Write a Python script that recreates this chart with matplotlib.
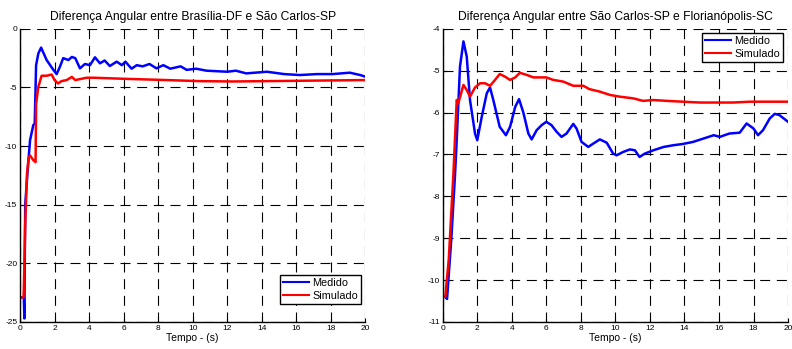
import matplotlib
matplotlib.use('Agg')
import matplotlib.pyplot as plt

plt.rcParams['font.family'] = ['Liberation Sans', 'DejaVu Sans']
plt.rcParams['axes.unicode_minus'] = False

# Brasilia-DF x Sao Carlos-SP
t1_med = [0.0, 0.22, 0.25, 0.3, 0.44, 0.58, 0.77, 0.85, 0.93, 1.06, 1.22, 1.54, 1.93, 2.12, 2.32,
          2.5, 2.8, 3.0, 3.2, 3.47, 3.76, 4.05, 4.34, 4.63, 4.9, 5.2, 5.6, 5.9, 6.1, 6.46, 6.76,
          7.1, 7.5, 7.9, 8.3, 8.7, 9.3, 9.65, 10.2, 10.8, 12.0, 12.5, 13.1, 14.3, 15.3, 16.2,
          17.2, 18.1, 19.1, 19.7, 20.0]
y1_med = [-22.9, -22.9, -24.7, -15.0, -12.1, -9.5, -8.2, -8.1, -3.1, -2.1, -1.6, -2.66, -3.5, -3.86, -3.2,
          -2.5, -2.66, -2.4, -2.5, -3.37, -3.0, -3.1, -2.43, -2.94, -2.7, -3.17, -2.8, -3.1, -2.8, -3.4, -3.1,
          -3.2, -3.0, -3.37, -3.1, -3.4, -3.2, -3.5, -3.4, -3.57, -3.66, -3.57, -3.8, -3.66, -3.86, -3.94,
          -3.86, -3.86, -3.74, -3.94, -4.08]
t1_sim = [0.0, 0.2, 0.22, 0.3, 0.4, 0.5, 0.58, 0.77, 0.9, 0.93, 1.06, 1.25, 1.54, 1.83, 2.0, 2.2,
          2.4, 2.7, 3.0, 3.2, 3.86, 4.25, 6.0, 8.5, 10.4, 12.35, 16.2, 20.0]
y1_sim = [-22.9, -22.9, -22.2, -16.7, -12.4, -11.0, -10.8, -11.2, -11.37, -6.4, -4.94, -4.0, -4.0, -3.9, -4.37, -4.66,
          -4.46, -4.37, -4.1, -4.37, -4.17, -4.17, -4.26, -4.37, -4.46, -4.49, -4.43, -4.37]

# Sao Carlos-SP x Florianopolis-SC
t2_med = [0.0, 0.15, 0.25, 0.5, 0.71, 0.81, 1.0, 1.2, 1.39, 1.58, 1.87, 2.0, 2.26, 2.55, 2.74, 2.93,
          3.3, 3.66, 3.9, 4.2, 4.42, 4.67, 4.96, 5.15, 5.44, 5.73, 6.0, 6.3, 6.6, 6.88, 7.17, 7.56,
          7.75, 8.04, 8.43, 8.72, 9.1, 9.5, 9.87, 10.07, 10.45, 10.84, 11.13, 11.4, 11.7, 12.2, 12.8,
          13.35, 13.9, 14.5, 15.1, 15.7, 16.05, 16.6, 17.2, 17.6, 18.0, 18.26, 18.55, 18.94, 19.23,
          19.5, 20.0]
y2_med = [-10.4, -10.4, -10.45, -9.0, -7.5, -6.66, -4.9, -4.3, -4.66, -5.7, -6.5, -6.66, -6.1, -5.54, -5.4, -5.7,
          -6.34, -6.54, -6.34, -5.86, -5.68, -6.0, -6.5, -6.64, -6.42, -6.3, -6.22, -6.3, -6.46, -6.58, -6.5, -6.27,
          -6.38, -6.7, -6.82, -6.74, -6.64, -6.72, -6.98, -7.02, -6.94, -6.88, -6.9, -7.06, -6.98, -6.9, -6.82,
          -6.78, -6.75, -6.7, -6.62, -6.54, -6.58, -6.5, -6.48, -6.26, -6.38, -6.54, -6.42, -6.14, -6.03,
          -6.06, -6.22]
t2_sim = [0.0, 0.15, 0.35, 0.62, 0.81, 0.9, 1.2, 1.39, 1.58, 1.87, 2.16, 2.45, 2.74, 3.03, 3.3, 3.6,
          3.9, 4.2, 4.47, 4.86, 5.25, 5.63, 6.0, 6.4, 6.98, 7.56, 8.14, 8.5, 9.1, 9.7, 10.26, 11.03,
          11.6, 12.2, 12.96, 13.9, 14.9, 15.85, 16.8, 17.8, 18.75, 20.0]
y2_sim = [-10.4, -10.4, -9.5, -7.45, -5.7, -5.78, -5.34, -5.46, -5.62, -5.4, -5.3, -5.3, -5.36, -5.22, -5.08, -5.14,
          -5.22, -5.16, -5.05, -5.1, -5.16, -5.16, -5.16, -5.22, -5.26, -5.36, -5.36, -5.44, -5.5, -5.58, -5.62, -5.66,
          -5.72, -5.7, -5.72, -5.74, -5.76, -5.76, -5.76, -5.74, -5.74, -5.74]

x_ticks = list(range(0, 21, 2))

fig = plt.figure(figsize=(7.92, 3.49), dpi=100)
ax1 = fig.add_axes([0.0253, 0.0774, 0.436, 0.840])
ax2 = fig.add_axes([0.559, 0.0774, 0.436, 0.840])

panels = [
    (ax1, t1_med, y1_med, t1_sim, y1_sim, (-25, 0), [0, -5, -10, -15, -20, -25],
     'Diferença Angular entre Brasília-DF e São Carlos-SP', 'lower right', (0.988, 0.061)),
    (ax2, t2_med, y2_med, t2_sim, y2_sim, (-11, -4), list(range(-4, -12, -1)),
     'Diferença Angular entre São Carlos-SP e Florianópolis-SC', 'upper right', (0.986, 0.986)),
]

for ax, tm, ym, ts, ys, ylim, yt, title, loc, anchor in panels:
    ax.plot(tm, ym, color='#0000ff', lw=1.8, label='Medido')
    ax.plot(ts, ys, color='#ff0000', lw=1.8, label='Simulado')
    ax.set_xlim(0, 20)
    ax.set_ylim(*ylim)
    ax.set_xticks(x_ticks)
    ax.set_yticks(yt)
    ax.tick_params(direction='in', labelsize=6, length=3, pad=2)
    ax.grid(True, color='black', lw=0.8, linestyle=(0, (9, 6)))
    for s in ['top', 'right']:
        ax.spines[s].set_visible(False)
    for s in ['left', 'bottom']:
        ax.spines[s].set_linewidth(1.0)
    ax.set_title(title, fontsize=8.7, pad=6)
    ax.set_xlabel('Tempo - (s)', fontsize=7.5, labelpad=1)
    leg = ax.legend(loc=loc, bbox_to_anchor=anchor, fontsize=7.8, fancybox=False, framealpha=1,
                    edgecolor='black', borderpad=0.3, handlelength=2.4,
                    handletextpad=0.3, labelspacing=0.25, borderaxespad=0)
    leg.get_frame().set_linewidth(1.0)
    for ln in leg.get_lines():
        ln.set_linewidth(1.5)

fig.savefig('out.png', dpi=100)
